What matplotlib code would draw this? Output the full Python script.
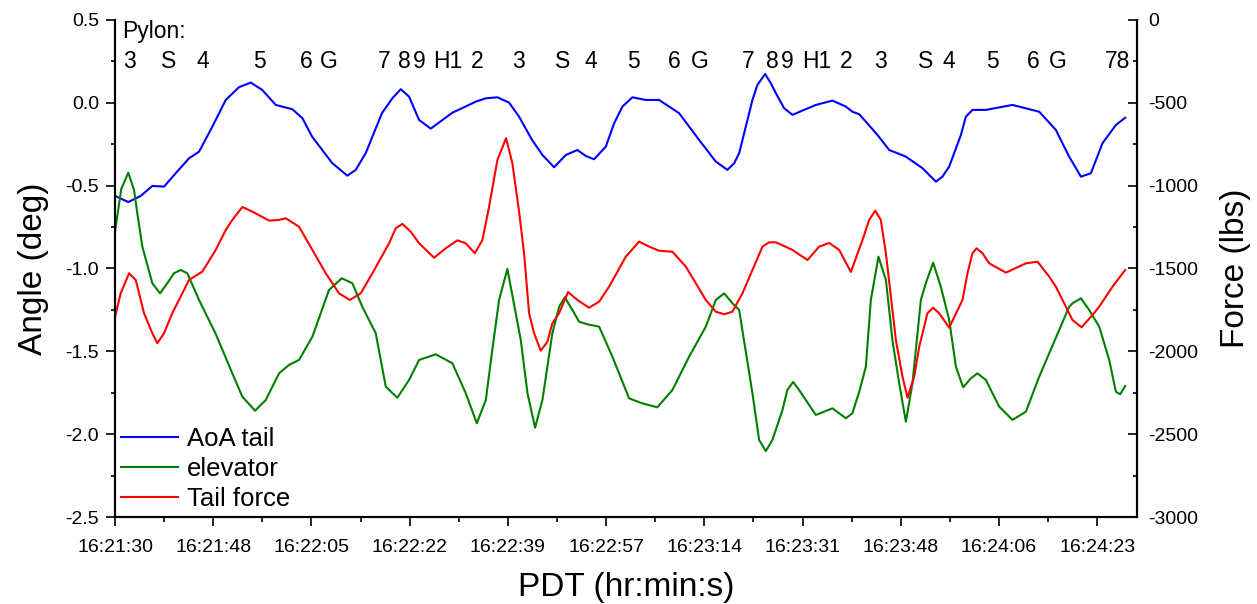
import matplotlib
matplotlib.use("Agg")
import matplotlib.pyplot as plt
from matplotlib.ticker import FixedLocator, AutoMinorLocator, MultipleLocator, FormatStrFormatter
import numpy as np

plt.rcParams['font.family'] = ['Liberation Sans', 'DejaVu Sans']
plt.rcParams['axes.unicode_minus'] = False

# time in seconds after 16:21:30
aoa_t = [0.0, 2.34, 4.53, 6.57, 8.63, 10.69, 13.04, 14.80, 17.14, 19.50, 21.84, 23.91,
         25.95, 28.31, 31.24, 33.00, 34.71, 38.23, 40.92, 42.40, 44.17, 47.04, 48.85,
         50.33, 51.79, 53.56, 55.62, 59.37, 63.55, 65.31, 67.35, 69.41, 71.17, 73.46,
         75.28, 77.34, 79.40, 81.44, 82.92, 84.38, 86.44, 87.91, 89.37, 91.13, 93.49,
         95.84, 99.36, 102.88, 105.82, 107.87, 109.05, 109.93, 112.27, 113.15, 114.51,
         115.51, 116.40, 117.86, 119.32, 121.08, 123.44, 126.37, 128.73, 129.88, 131.07,
         132.25, 134.29, 136.36, 139.30, 142.22, 144.59, 145.74, 146.93, 148.99, 149.86,
         151.03, 153.39, 158.08, 162.78, 165.72, 168.06, 170.13, 171.89, 173.93, 176.29,
         177.93]
aoa_v = [-0.562, -0.599, -0.562, -0.502, -0.506, -0.425, -0.335, -0.295, -0.144, 0.017,
         0.094, 0.122, 0.077, -0.013, -0.039, -0.093, -0.204, -0.363, -0.440, -0.405,
         -0.303, -0.061, 0.027, 0.082, 0.037, -0.104, -0.156, -0.061, 0.007, 0.027,
         0.033, 0.001, -0.084, -0.224, -0.315, -0.389, -0.315, -0.285, -0.321, -0.341,
         -0.265, -0.124, -0.023, 0.033, 0.017, 0.017, -0.063, -0.224, -0.355, -0.405,
         -0.365, -0.305, 0.017, 0.108, 0.174, 0.118, 0.058, -0.033, -0.073, -0.047,
         -0.013, 0.013, -0.023, -0.054, -0.069, -0.114, -0.194, -0.285, -0.325, -0.395,
         -0.476, -0.446, -0.385, -0.194, -0.084, -0.043, -0.043, -0.013, -0.054, -0.164,
         -0.325, -0.446, -0.425, -0.244, -0.134, -0.090]

elev_t = [0.0, 1.10, 2.34, 3.35, 3.93, 4.81, 6.57, 7.93, 9.21, 10.39, 11.57, 12.74, 14.80,
          17.74, 20.66, 22.43, 24.66, 26.55, 28.89, 30.65, 32.41, 34.76, 37.69, 39.93,
          41.80, 43.56, 45.92, 47.69, 49.72, 51.79, 53.56, 56.50, 59.42, 61.78, 63.72,
          65.31, 66.45, 67.65, 69.11, 71.47, 72.65, 73.99, 75.28, 77.03, 78.22, 79.22,
          80.56, 81.74, 83.20, 85.27, 87.60, 90.55, 92.89, 95.53, 98.18, 101.12, 104.06,
          105.82, 107.29, 108.75, 109.93, 112.27, 113.45, 114.63, 115.79, 117.56, 118.43,
          119.44, 120.49, 123.44, 126.37, 128.73, 129.88, 131.07, 132.25, 133.13, 134.47,
          135.78, 136.93, 138.12, 139.30, 140.46, 141.94, 142.81, 144.10, 145.45, 146.93,
          148.11, 149.39, 150.75, 151.91, 153.39, 155.74, 158.08, 160.44, 162.78, 168.06,
          168.65, 170.13, 171.58, 173.35, 175.11, 176.29, 177.05, 177.93]
elev_v = [-0.778, -0.520, -0.422, -0.526, -0.667, -0.868, -1.089, -1.150, -1.089, -1.029,
          -1.009, -1.029, -1.190, -1.395, -1.633, -1.774, -1.858, -1.794, -1.633, -1.582,
          -1.552, -1.412, -1.130, -1.059, -1.089, -1.231, -1.391, -1.713, -1.780, -1.673,
          -1.552, -1.518, -1.572, -1.753, -1.934, -1.794, -1.492, -1.190, -1.003, -1.432,
          -1.753, -1.961, -1.794, -1.391, -1.231, -1.174, -1.250, -1.321, -1.337, -1.351,
          -1.532, -1.784, -1.814, -1.838, -1.733, -1.532, -1.351, -1.190, -1.150, -1.210,
          -1.250, -1.753, -2.035, -2.102, -2.035, -1.854, -1.733, -1.685, -1.733, -1.884,
          -1.844, -1.904, -1.874, -1.745, -1.593, -1.190, -0.929, -1.069, -1.432, -1.693,
          -1.925, -1.693, -1.190, -1.089, -0.965, -1.110, -1.311, -1.593, -1.717, -1.663,
          -1.633, -1.673, -1.834, -1.914, -1.864, -1.653, -1.231, -1.210, -1.180, -1.250,
          -1.351, -1.552, -1.744, -1.759, -1.709]

force_t = [0.0, 1.00, 2.47, 3.65, 5.11, 6.57, 7.45, 8.63, 10.09, 13.04, 15.38, 17.74,
           19.50, 20.66, 22.43, 24.19, 27.13, 28.89, 30.07, 32.41, 34.76, 37.12, 39.46,
           41.35, 43.28, 45.33, 48.27, 49.45, 50.61, 52.09, 53.56, 56.20, 58.26, 60.31,
           61.78, 63.37, 64.71, 65.89, 67.35, 68.88, 69.99, 71.17, 72.05, 72.93, 73.81,
           74.99, 76.16, 77.03, 78.22, 79.80, 81.44, 83.50, 85.27, 87.02, 89.96, 92.31,
           94.08, 95.84, 98.18, 100.54, 102.30, 104.06, 105.82, 107.29, 108.75, 110.51,
           114.04, 115.22, 116.40, 119.32, 121.97, 124.03, 125.79, 127.55, 129.61, 131.66,
           132.83, 133.90, 134.88, 135.78, 137.54, 138.70, 139.59, 140.76, 141.65, 143.10,
           144.10, 145.16, 146.93, 149.27, 150.15, 151.03, 151.74, 152.79, 153.97, 156.92,
           160.44, 162.48, 164.54, 165.72, 168.65, 170.24, 172.17, 173.35, 175.69, 177.93]
force_v = [-1791, -1650, -1529, -1569, -1770, -1891, -1951, -1891, -1770, -1569, -1519,
           -1388, -1268, -1207, -1129, -1157, -1211, -1207, -1197, -1248, -1388, -1529,
           -1650, -1690, -1650, -1529, -1348, -1257, -1231, -1278, -1348, -1435, -1378,
           -1330, -1348, -1408, -1328, -1127, -845, -714, -865, -1157, -1408, -1770, -1891,
           -1996, -1942, -1831, -1770, -1642, -1690, -1737, -1700, -1610, -1429, -1338,
           -1368, -1393, -1399, -1489, -1589, -1690, -1761, -1776, -1761, -1650, -1368,
           -1342, -1342, -1388, -1449, -1368, -1346, -1388, -1521, -1328, -1207, -1151,
           -1207, -1408, -1932, -2153, -2280, -2153, -1972, -1770, -1737, -1770, -1857,
           -1690, -1529, -1408, -1378, -1408, -1469, -1525, -1469, -1459, -1549, -1610,
           -1811, -1855, -1781, -1731, -1610, -1509]

tick_labels = ['16:21:30', '16:21:48', '16:22:05', '16:22:22', '16:22:39', '16:22:57',
               '16:23:14', '16:23:31', '16:23:48', '16:24:06', '16:24:23']
tick_step = 17.3

pylon_labels = ['3', 'S', '4', '5', '6', 'G', '7', '8', '9', 'H1', '2',
                '3', 'S', '4', '5', '6', 'G', '7', '8', '9', 'H1', '2',
                '3', 'S', '4', '5', '6', 'G', '78']
pylon_t = [2.57, 9.52, 15.51, 25.37, 33.70, 37.70, 47.40, 50.92, 53.56, 58.55, 63.83,
           70.98, 78.77, 83.78, 91.37, 98.53, 102.93, 111.61, 115.84, 118.48, 123.58, 128.76,
           134.82, 142.85, 146.85, 154.60, 161.82, 166.11, 176.64]

fig = plt.figure(figsize=(12.57, 6.04), dpi=100)
ax = fig.add_axes([0.0915, 0.144, 0.813, 0.823])
ax2 = ax.twinx()

l1, = ax.plot(aoa_t, aoa_v, color='#0000ff', lw=1.5, label='AoA tail')
l2, = ax.plot(elev_t, elev_v, color='#008000', lw=1.5, label='elevator')
l3, = ax2.plot(force_t, force_v, color='#ff0000', lw=1.5, label='Tail force')

ax.set_xlim(0, 180)
ax.set_ylim(-2.5, 0.5)
ax2.set_ylim(-3000, 0)

ax.xaxis.set_major_locator(FixedLocator([i * tick_step for i in range(len(tick_labels))]))
ax.set_xticklabels(tick_labels)
ax.xaxis.set_minor_locator(FixedLocator([(i + 0.5) * tick_step for i in range(len(tick_labels))]))
ax.yaxis.set_major_locator(MultipleLocator(0.5))
ax.yaxis.set_minor_locator(AutoMinorLocator(2))
ax.yaxis.set_major_formatter(FormatStrFormatter('%.1f'))
ax2.yaxis.set_major_locator(MultipleLocator(500))
ax2.yaxis.set_minor_locator(AutoMinorLocator(2))

for a in (ax, ax2):
    a.spines['top'].set_visible(False)
    for s in a.spines.values():
        s.set_linewidth(1.5)

ax.tick_params(axis='x', which='major', direction='out', length=6.5, width=1.2, labelsize=14, pad=9)
ax.tick_params(axis='x', which='minor', direction='out', length=3.5, width=1.2)
ax.tick_params(axis='y', which='major', direction='out', length=6.5, width=1.2, labelsize=14, pad=5)
ax.tick_params(axis='y', which='minor', direction='out', length=3, width=1.2)
ax2.tick_params(axis='y', which='major', direction='in', length=6.5, width=1.2, labelsize=14, pad=8)
ax2.tick_params(axis='y', which='minor', direction='in', length=3, width=1.2)

ax.set_xlabel('PDT (hr:min:s)', fontsize=24, labelpad=12)
ax.set_ylabel('Angle (deg)', fontsize=24, labelpad=12)
ax2.set_ylabel('Force (lbs)', fontsize=24, rotation=90, labelpad=16)

trans = matplotlib.transforms.blended_transform_factory(ax.transData, ax.transAxes)
ax.text(0.007, 0.976, 'Pylon:', transform=ax.transAxes, fontsize=16.5, ha='left', va='center')
for lab, t in zip(pylon_labels, pylon_t):
    ax.text(t, 0.916, lab, transform=trans, fontsize=16.5, ha='center', va='center')

ax.legend(handles=[l1, l2, l3], loc='lower left', bbox_to_anchor=(0.0, 0.0), frameon=False,
          fontsize=18.5, handlelength=2.2, handletextpad=0.35, labelspacing=0.22,
          borderaxespad=0.25, borderpad=0.0)

fig.savefig('out.png', dpi=100)
